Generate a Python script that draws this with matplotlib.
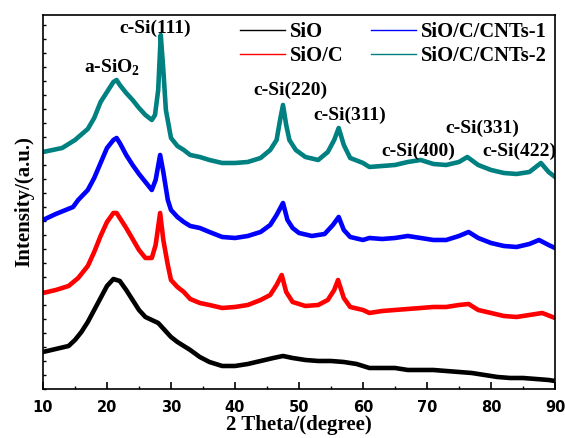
import numpy as np
import matplotlib
matplotlib.use("Agg")
import matplotlib.pyplot as plt
from matplotlib.ticker import MultipleLocator

# XRD patterns, values (offset stacked, arbitrary units)
two_theta_sio = [10, 12, 14, 15, 16, 17, 18, 19, 20, 21, 22, 23, 24, 25, 26, 27, 28, 29, 30,
                 31, 32, 33, 34.5, 36, 38, 40, 42, 44, 46, 47.5, 49, 51, 53, 55, 57, 59, 61,
                 63, 65, 67, 69, 71, 73, 75, 77, 79, 81, 83, 85, 87, 89, 90]
int_sio = [37, 40, 43, 49, 57, 67, 79, 91, 103, 110, 108, 99, 89, 79, 72, 69, 66, 59, 52,
           47, 43, 39, 32, 27, 23, 23, 25, 28, 31, 33, 31, 29, 28, 28, 27, 25, 21,
           21, 21, 19, 19, 19, 18, 17, 16, 14, 12, 11, 11, 10, 9, 8]

two_theta_sioc = [10, 12, 14, 15.5, 17, 18, 19, 20, 21, 21.5, 22, 23, 24, 25, 26, 27, 27.6, 28.3,
                  28.8, 29.5, 30, 31, 32, 33, 34.5, 36, 38, 40, 42, 44, 45.5, 46.5, 47.3, 48,
                  49, 51, 53, 54.5, 55.5, 56.1, 57, 58, 60, 61, 63, 65, 67, 69, 71, 73, 75,
                  76.5, 78, 80, 82, 84, 86, 88, 90]
int_sioc = [96, 99, 103, 111, 123, 137, 153, 167, 176, 176, 171, 161, 150, 139, 131, 131, 144, 176,
            149, 124, 109, 102, 97, 90, 86, 84, 81, 82, 84, 89, 94, 104, 114, 97,
            87, 83, 84, 89, 99, 109, 91, 82, 79, 76, 78, 79, 80, 81, 82, 82, 84,
            85, 79, 76, 73, 72, 74, 76, 71]

two_theta_cnt1 = [10, 12, 14.7, 15.5, 17, 18, 19, 20, 21, 21.5, 22, 23, 24, 25, 26, 27, 27.6, 28.3,
                  28.8, 29.5, 30, 31, 32, 33, 34.5, 36, 38, 40, 42, 44, 45.5, 46.5, 47.5, 48.2,
                  49, 50, 52, 54, 55.3, 56.2, 57, 58, 60, 61, 63, 65, 67, 69, 71, 73, 75,
                  76.5, 78, 80, 82, 84, 86, 87.5, 89, 90]
int_cnt1 = [169, 175, 182, 189, 199, 211, 226, 241, 249, 251, 246, 234, 224, 215, 207, 199, 209, 234,
            217, 189, 179, 172, 167, 163, 161, 157, 152, 151, 153, 157, 164, 174, 186, 169,
            161, 156, 153, 155, 164, 172, 159, 152, 149, 151, 150, 151, 153, 151, 149, 149, 153,
            157, 151, 146, 143, 142, 145, 149, 144, 141]

two_theta_cnt2 = [10, 13, 15, 17, 18, 19, 20, 21, 21.5, 22, 23, 24, 25, 26, 27, 27.5, 28, 28.4,
                  28.8, 29.2, 30, 31, 32, 33, 34.5, 36, 38, 40, 42, 44, 45.5, 46.5, 47.1, 47.5,
                  48, 48.5, 49.5, 51, 53, 54.5, 55.5, 56.2, 57, 58, 60, 61, 63, 65, 67, 69,
                  71, 73, 75, 76.3, 78, 80, 82, 84, 86, 87.8, 89, 90]
int_cnt2 = [237, 241, 249, 260, 271, 287, 297, 307, 309, 304, 296, 289, 281, 274, 269, 274, 299, 354,
            319, 279, 251, 243, 239, 234, 232, 229, 226, 226, 227, 231, 239, 249, 271, 284,
            264, 249, 239, 232, 229, 237, 249, 261, 244, 231, 226, 222, 223, 224, 227, 229,
            225, 224, 227, 232, 224, 219, 216, 215, 217, 226, 217, 212]

xticks = [10, 20, 30, 40, 50, 60, 70, 80, 90]
xtick_labels = ["10", "20", "30", "40", "50", "60", "70", "80", "90"]

peak_labels = ["a-SiO$_\\mathbf{2}$", "c-Si(111)", "c-Si(220)", "c-Si(311)",
               "c-Si(400)", "c-Si(331)", "c-Si(422)"]
peak_x = [20.8, 27.6, 48.6, 58.0, 68.7, 78.6, 84.4]
peak_y = [321, 361, 299, 274, 238, 261, 238]

serif = "Liberation Serif"

plt.rcParams["font.family"] = [serif, "DejaVu Serif"]
plt.rcParams["font.weight"] = "bold"
plt.rcParams["mathtext.fontset"] = "custom"
plt.rcParams["mathtext.rm"] = serif
plt.rcParams["mathtext.bf"] = serif + ":bold"

fig = plt.figure(figsize=(5.65, 4.38), dpi=100)
ax = fig.add_axes([0.0761, 0.1119, 0.9062, 0.8539])

lw = 3.3
ax.plot(two_theta_sio, int_sio, color="black", lw=lw, label="SiO")
ax.plot(two_theta_sioc, int_sioc, color="#ff0000", lw=lw, label="SiO/C")
ax.plot(two_theta_cnt1, int_cnt1, color="#0000ff", lw=lw, label="SiO/C/CNTs-1")
ax.plot(two_theta_cnt2, int_cnt2, color="#008080", lw=lw, label="SiO/C/CNTs-2")

for lab, x, y in zip(peak_labels, peak_x, peak_y):
    ax.text(x, y, lab, ha="center", va="center", fontsize=14, fontweight="bold")

ax.set_xlim(10, 90)
ax.set_ylim(0, 374)
ax.set_xticks(xticks, labels=xtick_labels, fontsize=10.5, fontweight="bold",
              family="DejaVu Sans")
ax.xaxis.set_minor_locator(MultipleLocator(5))
ax.yaxis.set_major_locator(MultipleLocator(14))
ax.tick_params(axis="x", which="major", direction="in", length=5, width=1.2, pad=8)
ax.tick_params(axis="x", which="minor", direction="in", length=2.5, width=1)
ax.tick_params(axis="y", which="major", direction="in", length=2.5, width=1,
               labelleft=False)
for sp in ax.spines.values():
    sp.set_linewidth(1.2)

ax.set_xlabel("2 Theta/(degree)", fontsize=15, fontweight="bold", labelpad=0)
ax.set_ylabel("Intensity/(a.u.)", fontsize=15, fontweight="bold", labelpad=6)

# legend lines are thin in the reference
handles, labels = ax.get_legend_handles_labels()
leg = ax.legend(handles, labels, ncol=2, loc="upper right", bbox_to_anchor=(1.02, 1.03),
                frameon=False, handlelength=2.2, handletextpad=0.25, columnspacing=1.3,
                labelspacing=0.2, prop={"family": serif, "weight": "bold", "size": 14.8})
for h in leg.get_lines():
    h.set_linewidth(1.0)

fig.savefig("out.png", dpi=100)
